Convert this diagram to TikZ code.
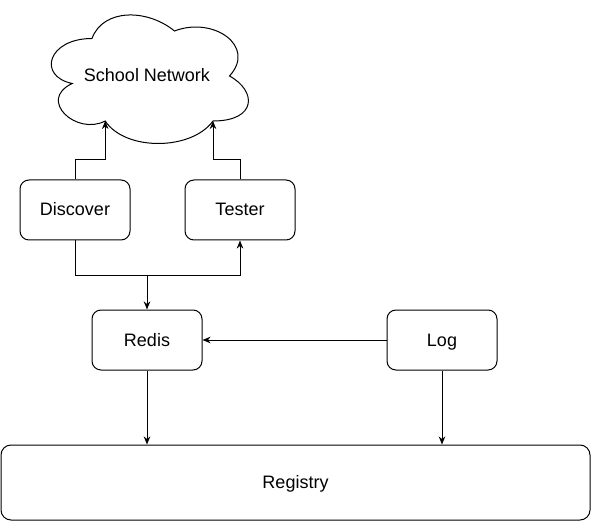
\documentclass[tikz,border=0pt]{standalone}
\usepackage{fontspec}
\setmainfont{Liberation Sans}
\usetikzlibrary{arrows.meta}
\begin{document}
\begin{tikzpicture}[x=1pt,y=-1pt,
  line width=1pt,
  box/.style={draw=black,rounded corners=9pt,minimum width=110pt,minimum height=60pt,inner sep=0pt,text height=15pt,text depth=3pt,font=\fontsize{18}{21}\selectfont},
  arr/.style={draw=black,-{Stealth[length=8pt,width=6.5pt,inset=2.5pt]}}]
\useasboundingbox (0,0) rectangle (591,521);
% cloud
\draw[fill=white] (92,38.5) .. controls (48,38.5) and (37,76) .. (72.2,83.5)
  .. controls (37,100) and (76.6,136) .. (105.2,121)
  .. controls (125,151) and (191,151) .. (213,121)
  .. controls (257,121) and (257,91) .. (229.5,76)
  .. controls (257,46) and (213,16) .. (174.5,31)
  .. controls (147,8.5) and (103,8.5) .. (92,38.5) -- cycle;
\node[font=\fontsize{18}{21}\selectfont] (net) at (147,75) {School Network};
\coordinate (cl1) at (105.2,121);
\coordinate (cl2) at (213,121);
% boxes
\node[box] (disc) at (75,210) {Discover};
\node[box] (test) at (240,210) {Tester};
\node[box] (redis) at (147,340) {Redis};
\node[box] (log) at (442,340) {Log};
\node[box,minimum width=589pt,minimum height=75pt,rounded corners=10pt] (reg) at (295.5,482.5) {Registry};
\coordinate (j) at (147,275);
% connectors
\draw[arr] (disc.north) -- ++(0,-20) -| (cl1);
\draw[arr] (test.north) -- ++(0,-20) -| (cl2);
\draw[arr] (disc.south) -- ++(0,35) -| (test.south);
\draw[arr] (j) -- (redis.north);
\draw[arr] (log.west) -- (redis.east);
\draw[arr] (redis.south) -- (redis.south |- reg.north);
\draw[arr] (log.south) -- (log.south |- reg.north);
\end{tikzpicture}
\end{document}
